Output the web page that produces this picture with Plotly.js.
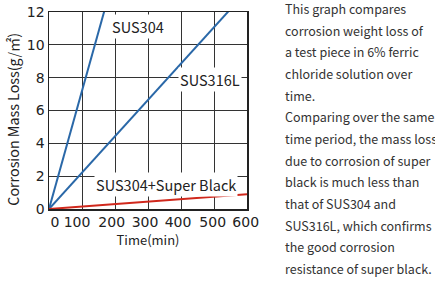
<!DOCTYPE html>
<html><head><meta charset="utf-8">
<script src="https://cdn.plot.ly/plotly-3.0.1.min.js"></script>
<style>
body{margin:0;background:#fff;}
#wrap{position:relative;width:435px;height:283px;overflow:hidden;}
#chart{position:absolute;left:0;top:0;width:435px;height:283px;}
#note{position:absolute;left:285px;top:0px;width:150px;font-family:"Noto Sans CJK JP","Noto Sans",sans-serif;font-size:12.5px;color:#333;white-space:nowrap;}
#note div{height:18px;line-height:18px;margin-bottom:3.67px;}
</style></head>
<body><div id="wrap"><div id="chart"></div>
<div id="note"></div></div>
<script>
const noteLines = ["This graph compares","corrosion weight loss of","a test piece in 6% ferric","chloride solution over","time.","Comparing over the same","time period, the mass loss","due to corrosion of super","black is much less than","that of SUS304 and","SUS316L, which confirms","the good corrosion","resistance of super black."];
const seriesNames = ["SUS304", "SUS316L", "SUS304+Super Black"];
const timeSUS304 = [0, 180];
const lossSUS304 = [0, 12.95];
const timeSUS316L = [0, 560];
const lossSUS316L = [0, 12.4];
const timeSB = [0, 600];
const lossSB = [0, 0.9];
const xTicks = [0, 100, 200, 300, 400, 500, 600];
const yTicks = [0, 2, 4, 6, 8, 10, 12];

const note = document.getElementById('note');
noteLines.forEach(t => { const d = document.createElement('div'); d.textContent = t; note.appendChild(d); });

// label placement offsets (layout only)
const xLabelShift = [18, -15, -10, -9, -9, -4, -4];
const cjk = '"Noto Sans CJK JP","Noto Sans",sans-serif';
const tickFont = {size: 14, family: '"DejaVu Sans",sans-serif', color: '#222'};
const labFont = {size: 14.5, family: cjk, color: '#222'};
const traces = [
  {x: timeSUS304, y: lossSUS304, mode: 'lines', line: {color: '#2a68a8', width: 2}, name: seriesNames[0]},
  {x: timeSUS316L, y: lossSUS316L, mode: 'lines', line: {color: '#2a68a8', width: 2}, name: seriesNames[1]},
  {x: timeSB, y: lossSB, mode: 'lines', line: {color: '#d0281c', width: 2}, name: seriesNames[2]}
];
const layout = {
  width: 435, height: 283,
  margin: {l: 49, r: 188, t: 12, b: 74},
  showlegend: false,
  paper_bgcolor: '#fff', plot_bgcolor: '#fff',
  font: {family: cjk, size: 13, color: '#222'},
  xaxis: {range: [0, 600], tickvals: xTicks.map((v, i) => v + xLabelShift[i]), ticktext: xTicks.map(String), showgrid: false,
    minor: {tickvals: xTicks, showgrid: true, gridcolor: '#333', gridwidth: 1, ticks: ''},
    showline: true, linecolor: '#222', linewidth: 1.5, mirror: true, zeroline: false, ticks: '', ticklen: 0,
    tickfont: tickFont,
    title: {text: 'Time(min)', font: {size: 13, family: cjk, color: '#222'}, standoff: 2}},
  yaxis: {range: [0, 12], tickvals: yTicks, ticktext: yTicks.map(String), showgrid: true, gridcolor: '#333', gridwidth: 1,
    showline: true, linecolor: '#222', linewidth: 1.5, mirror: true, zeroline: false, ticks: '', ticklen: 0,
    tickfont: tickFont},
  annotations: [
    {x: -0.183, y: 0.457, xref: 'paper', yref: 'paper', xanchor: 'center', yanchor: 'middle', text: 'Corrosion Mass Loss(g/㎡)', textangle: -90, showarrow: false, font: {size: 14.3, family: cjk, color: '#222'}},
    {x: 270, y: 11.1, xref: 'x', yref: 'y', text: seriesNames[0], showarrow: false, bgcolor: '#fff', font: labFont, borderpad: 1},
    {x: 488, y: 7.9, xref: 'x', yref: 'y', text: seriesNames[1], showarrow: false, bgcolor: '#fff', font: labFont, borderpad: 1},
    {x: 356, y: 1.5, xref: 'x', yref: 'y', text: seriesNames[2], showarrow: false, bgcolor: '#fff', font: labFont, borderpad: 1}
  ]
};
Plotly.newPlot('chart', traces, layout, {staticPlot: true, displayModeBar: false});
</script></body></html>
